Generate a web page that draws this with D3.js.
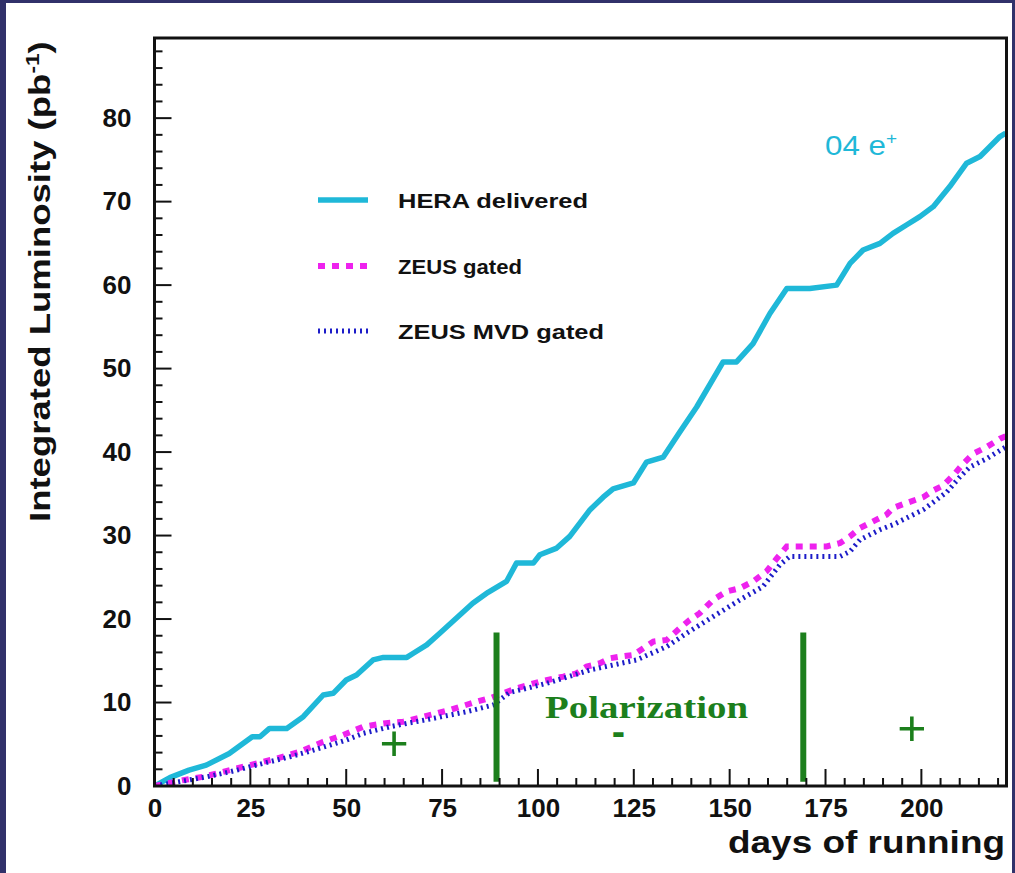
<!DOCTYPE html>
<html>
<head>
<meta charset="utf-8">
<script src="https://cdn.jsdelivr.net/npm/d3@7"></script>
<style>
  html, body { margin: 0; padding: 0; background: #31316a; }
  svg { display: block; }
</style>
</head>
<body>
<div id="chart"></div>
<script>
// HERA delivered (cyan)
const heraDays = [0, 4, 9, 13.5, 19.5, 25.5, 27.5, 30, 34.5, 38.8, 44, 46.6, 50, 52.7, 57, 59.7, 65.8, 67.5, 71, 74.4, 83, 87, 91.8, 94.4, 98.8, 100.5, 104.9, 108.3, 113.6, 117, 119.6, 124.9, 128.3, 132.7, 137, 141.4, 148.3, 151.8, 156.1, 160.5, 164.9, 170.9, 177.9, 181.4, 184.8, 189.2, 192.6, 196.1, 199.6, 203.1, 207.4, 211.8, 215.3, 220.5, 222];
const heraLumi = [0, 1.0, 1.9, 2.5, 3.9, 5.9, 5.9, 6.9, 6.9, 8.3, 10.9, 11.1, 12.7, 13.3, 15.1, 15.4, 15.4, 15.9, 16.9, 18.3, 21.9, 23.2, 24.5, 26.7, 26.7, 27.7, 28.5, 29.9, 33.1, 34.6, 35.6, 36.3, 38.8, 39.4, 42.4, 45.4, 50.8, 50.8, 53.0, 56.6, 59.6, 59.6, 60.0, 62.6, 64.2, 65.0, 66.2, 67.2, 68.2, 69.4, 71.8, 74.6, 75.4, 77.8, 78.2];

// ZEUS gated (magenta)
const zeusDays = [0, 7.5, 12.7, 19.7, 24.9, 31.9, 37.9, 44, 49.2, 54.4, 59.7, 64.9, 70.1, 77, 84, 88, 94.4, 100.5, 106.6, 110.1, 112.7, 116.2, 118.8, 121.4, 124.9, 127.5, 130.1, 133.6, 137, 139.6, 142.2, 145.7, 149.2, 152.7, 156.1, 159.6, 162.2, 164.9, 175.3, 178.8, 181.4, 184, 188.3, 190.9, 192.6, 196.1, 200.5, 203.1, 205.7, 208.3, 210.9, 213.5, 217, 220.5, 222];
const zeusLumi = [0, 0.7, 1.1, 1.9, 2.5, 3.3, 4.1, 5.3, 6.1, 7.1, 7.5, 7.7, 8.3, 9.1, 10.1, 10.6, 11.7, 12.5, 13.1, 13.5, 14.3, 14.7, 15.3, 15.5, 15.7, 16.5, 17.3, 17.5, 18.9, 19.9, 20.7, 22.3, 23.3, 23.7, 24.5, 25.7, 27.2, 28.7, 28.7, 29.1, 29.9, 30.9, 31.9, 32.5, 33.3, 33.9, 34.6, 35.4, 36.0, 37.2, 38.6, 39.8, 40.6, 41.6, 41.9];

// ZEUS MVD gated (blue)
const mvdDays = [0, 7.5, 13.6, 19.7, 24.9, 30, 35.3, 40, 45.8, 50, 54.4, 61.4, 67, 72.7, 81.4, 88.3, 92.6, 102.3, 113.6, 125.7, 133.6, 138.8, 145.7, 152.7, 158.7, 163.1, 165.7, 178.8, 181.4, 184, 189.2, 192.6, 196.1, 200.5, 204, 206.6, 210, 212.6, 217, 220.5, 222];
const mvdLumi = [0, 0.6, 1.1, 1.7, 2.3, 2.9, 3.5, 4.1, 4.9, 5.5, 6.3, 7.1, 7.6, 8.1, 8.9, 9.7, 11.2, 12.3, 13.9, 15.1, 16.7, 18.3, 20.3, 22.3, 23.9, 26.5, 27.5, 27.5, 28.1, 29.5, 30.7, 31.3, 32.1, 33.1, 34.3, 35.2, 37.0, 38.2, 39.2, 40.2, 40.6];

const xTicks = [0, 25, 50, 75, 100, 125, 150, 175, 200];
const yTicks = [0, 10, 20, 30, 40, 50, 60, 70, 80];
const polarizationSwitches = [89.2, 169.2];
const polarizationSigns = [{ day: 62.5, sign: "+" }, { day: 121, sign: "-" }, { day: 197.5, sign: "+" }];

const seriesNames = ["HERA delivered", "ZEUS gated", "ZEUS MVD gated"];

const width = 1015, height = 873;
const sans = "Liberation Sans, Arial, sans-serif";
const svg = d3.select("#chart").append("svg")
    .attr("width", width)
    .attr("height", height);

// white page inside the dark border
svg.append("rect")
    .attr("x", 6).attr("y", 3)
    .attr("width", width - 9).attr("height", height - 3)
    .attr("fill", "#ffffff");

const x = d3.scaleLinear().domain([0, 222.2]).range([154.5, 1006.5]);
const y = d3.scaleLinear().domain([0, 89.6]).range([786, 38]);

const green = "#1c7f1c";
const cyan = "#1fb8d8";
const magenta = "#ee22ee";
const blue = "#1c1cc8";

svg.append("defs").append("clipPath").attr("id", "plot")
    .append("rect")
    .attr("x", x(0)).attr("y", y(89.6))
    .attr("width", x(222.2) - x(0)).attr("height", y(0) - y(89.6));

//curves
const line = d3.line().x(d => x(d[0])).y(d => y(d[1]));
const plot = svg.append("g").attr("clip-path", "url(#plot)");

plot.append("path")
    .attr("d", line(d3.zip(heraDays, heraLumi)))
    .attr("fill", "none").attr("stroke", cyan)
    .attr("stroke-width", 5.5).attr("stroke-linejoin", "round");

plot.append("path")
    .attr("d", line(d3.zip(zeusDays, zeusLumi)))
    .attr("fill", "none").attr("stroke", magenta)
    .attr("stroke-width", 6).attr("stroke-dasharray", "7 7");

plot.append("path")
    .attr("d", line(d3.zip(mvdDays, mvdLumi)))
    .attr("fill", "none").attr("stroke", blue)
    .attr("stroke-width", 5).attr("stroke-dasharray", "2 4");

//polarization markers
svg.selectAll(".switch").data(polarizationSwitches).enter().append("line")
    .attr("x1", d => x(d)).attr("x2", d => x(d))
    .attr("y1", y(18.4)).attr("y2", y(0.5))
    .attr("stroke", green).attr("stroke-width", 6);

svg.append("text")
    .attr("x", 545).attr("y", 718)
    .attr("font-family", "Liberation Serif, Times New Roman, serif")
    .attr("font-weight", "bold").attr("font-size", 32)
    .attr("textLength", 203).attr("lengthAdjust", "spacingAndGlyphs")
    .attr("fill", green)
    .text("Polarization");

svg.selectAll(".sign").data(polarizationSigns).enter().append("text")
    .attr("x", d => x(d.day))
    .attr("y", d => d.sign === "+" ? (d.day < 100 ? 760 : 745) : 745)
    .attr("text-anchor", "middle")
    .attr("font-family", sans)
    .attr("font-weight", d => d.sign === "+" ? "normal" : "bold")
    .attr("font-size", d => d.sign === "+" ? 50 : 40)
    .attr("fill", green)
    .text(d => d.sign);

//legend
const legendY = [200, 266, 331];
const legendWidths = [190, 124, 206];
const legendStyles = [
    { stroke: cyan, width: 5.5, dash: null },
    { stroke: magenta, width: 6, dash: "7 7" },
    { stroke: blue, width: 5, dash: "2 4" }
];
seriesNames.forEach((name, i) => {
    svg.append("line")
        .attr("x1", 318).attr("x2", 368)
        .attr("y1", legendY[i]).attr("y2", legendY[i])
        .attr("stroke", legendStyles[i].stroke)
        .attr("stroke-width", legendStyles[i].width)
        .attr("stroke-dasharray", legendStyles[i].dash);
    svg.append("text")
        .attr("x", 398).attr("y", legendY[i] + 8)
        .attr("font-family", sans)
        .attr("font-weight", "bold").attr("font-size", 21)
        .attr("textLength", legendWidths[i]).attr("lengthAdjust", "spacingAndGlyphs")
        .attr("fill", "#111")
        .text(name);
});

svg.append("text")
    .attr("transform", "translate(825,155) scale(1.12,1)")
    .attr("font-family", sans)
    .attr("font-size", 28)
    .attr("fill", cyan)
    .text("04 e")
    .append("tspan")
    .attr("dy", -11).attr("font-size", 17)
    .text("+");

//axes
const yAxis = d3.axisLeft(y).tickValues(yTicks).tickSize(0).tickPadding(23);
svg.append("g")
    .attr("transform", `translate(${x(0)},0)`)
    .call(yAxis)
    .call(g => g.select(".domain").remove())
    .selectAll("text")
    .attr("font-family", sans)
    .attr("font-weight", "bold").attr("font-size", 26)
    .attr("fill", "#111");

const xAxis = d3.axisBottom(x).tickValues(xTicks).tickSize(0).tickPadding(13);
svg.append("g")
    .attr("transform", `translate(0,${y(0)})`)
    .call(xAxis)
    .call(g => g.select(".domain").remove())
    .selectAll("text")
    .attr("font-family", sans)
    .attr("font-weight", "bold").attr("font-size", 26)
    .attr("fill", "#111");

// inward ticks
svg.append("g").selectAll("line").data(d3.range(0, 89.6, 2)).enter().append("line")
    .attr("x1", x(0)).attr("x2", d => x(0) + (d % 10 === 0 ? 17 : 8))
    .attr("y1", d => y(d)).attr("y2", d => y(d))
    .attr("stroke", "#111").attr("stroke-width", 2);

svg.append("g").selectAll("line").data(d3.range(0, 222.2, 5)).enter().append("line")
    .attr("x1", d => x(d)).attr("x2", d => x(d))
    .attr("y1", y(0)).attr("y2", d => y(0) - (d % 25 === 0 ? 17 : 8))
    .attr("stroke", "#111").attr("stroke-width", 2);

//frame
svg.append("rect")
    .attr("x", x(0)).attr("y", y(89.6))
    .attr("width", x(222.2) - x(0)).attr("height", y(0) - y(89.6))
    .attr("fill", "none").attr("stroke", "#111").attr("stroke-width", 3);

//axis titles
const yTitle = svg.append("text")
    .attr("transform", "translate(50,522) rotate(-90) scale(1.26,1)")
    .attr("font-family", sans)
    .attr("font-weight", "bold").attr("font-size", 29)
    .attr("fill", "#111")
    .text("Integrated Luminosity (pb");
yTitle.append("tspan").attr("dy", -11).attr("font-size", 18).text("-1");
yTitle.append("tspan").attr("dy", 11).text(")");

svg.append("text")
    .attr("x", 728).attr("y", 853)
    .attr("font-family", sans)
    .attr("font-weight", "bold").attr("font-size", 31)
    .attr("textLength", 277).attr("lengthAdjust", "spacingAndGlyphs")
    .attr("fill", "#111")
    .text("days of running");
</script>
</body>
</html>
